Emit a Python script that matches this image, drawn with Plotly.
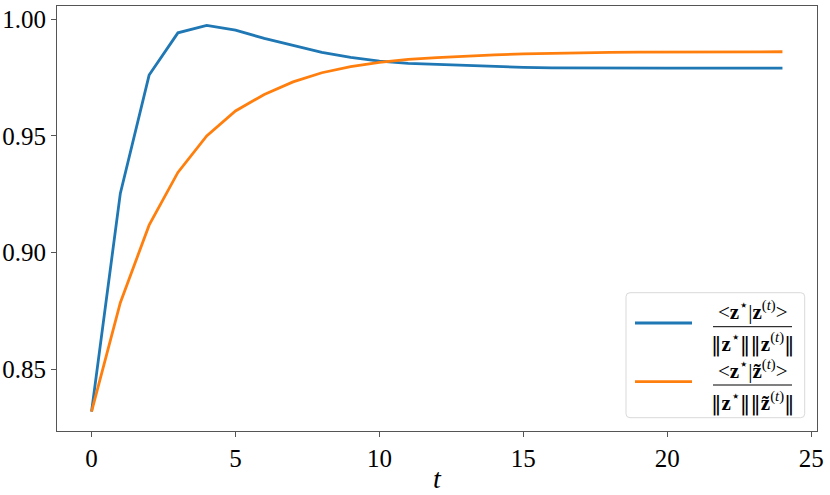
import plotly.graph_objects as go

t = list(range(25))
cos_z = [0.8318, 0.9253, 0.9760, 0.9941, 0.9973, 0.9953, 0.9917, 0.9886, 0.9857,
         0.9836, 0.9820, 0.9810, 0.9805, 0.9800, 0.9796, 0.9793, 0.9791, 0.9790,
         0.9790, 0.9790, 0.9790, 0.9790, 0.9790, 0.9790, 0.9790]
cos_zt = [0.8318, 0.8785, 0.9117, 0.9343, 0.9499, 0.9606, 0.9677, 0.9731, 0.9770,
          0.9796, 0.9814, 0.9827, 0.9835, 0.9842, 0.9847, 0.9851, 0.9854, 0.9856,
          0.9857, 0.9858, 0.9859, 0.9859, 0.9860, 0.9860, 0.9860]
x_ticks = [0, 5, 10, 15, 20, 25]
y_ticks = [0.85, 0.90, 0.95, 1.00]

BLUE = "#1f77b4"
ORANGE = "#ff7f0e"
FONT = "Liberation Serif, Times New Roman, serif"
W, H = 830, 495
ML, MR, MT, MB = 57, 13, 6, 64
PW, PH = W - ML - MR, H - MT - MB


def px(xp):
    return (xp - ML) / PW


def py(yp):
    return (H - MB - yp) / PH


fig = go.Figure()
fig.add_trace(go.Scatter(x=t, y=cos_z, mode="lines", name="z",
                         line=dict(color=BLUE, width=2.8), showlegend=False))
fig.add_trace(go.Scatter(x=t, y=cos_zt, mode="lines", name="z tilde",
                         line=dict(color=ORANGE, width=2.8), showlegend=False))

axis_common = dict(showline=True, mirror=True, linecolor="#555", linewidth=1,
                   ticks="outside", ticklen=5, tickcolor="#555", showgrid=False,
                   zeroline=False, automargin=False,
                   tickfont=dict(family=FONT, size=25, color="black"))
fig.update_xaxes(range=[-1.2, 25.2], tickvals=x_ticks, **axis_common)
fig.update_yaxes(range=[0.8235, 1.0056], tickvals=y_ticks, tickformat=".2f", **axis_common)

# custom legend with fraction labels
x0, x1, y0, y1 = 626, 804.7, 292.7, 417.7
r = 4
path = (f"M {px(x0 + r)},{py(y0)} L {px(x1 - r)},{py(y0)} "
        f"Q {px(x1)},{py(y0)} {px(x1)},{py(y0 + r)} L {px(x1)},{py(y1 - r)} "
        f"Q {px(x1)},{py(y1)} {px(x1 - r)},{py(y1)} L {px(x0 + r)},{py(y1)} "
        f"Q {px(x0)},{py(y1)} {px(x0)},{py(y1 - r)} L {px(x0)},{py(y0 + r)} "
        f"Q {px(x0)},{py(y0)} {px(x0 + r)},{py(y0)} Z")
shapes = [dict(type="path", xref="paper", yref="paper", path=path,
               line=dict(color="#d9d9d9", width=1), fillcolor="rgba(255,255,255,0.85)")]
annotations = [dict(xref="paper", yref="paper", x=px(437), y=py(478),
                    text="<i>t</i>", showarrow=False, xanchor="center", yanchor="middle",
                    font=dict(family=FONT, size=28, color="black"))]
NB = '<span style="font-family:DejaVu Serif">‖</span>'
entries = [
    (BLUE, 323, 326.7,
     "&lt;<b>z</b><sup>⋆</sup>|<b>z</b><sup>(<i>t</i>)</sup>&gt;",
     f"{NB}<b>z</b><sup>⋆</sup>{NB}{NB}<b>z</b><sup>(<i>t</i>)</sup>{NB}"),
    (ORANGE, 381.7, 385,
     "&lt;<b>z</b><sup>⋆</sup>|<b>z̃</b><sup>(<i>t</i>)</sup>&gt;",
     f"{NB}<b>z</b><sup>⋆</sup>{NB}{NB}<b>z̃</b><sup>(<i>t</i>)</sup>{NB}"),
]
for color, ys, yb, num, den in entries:
    shapes.append(dict(type="line", xref="paper", yref="paper",
                       x0=px(635), x1=px(692), y0=py(ys), y1=py(ys),
                       line=dict(color=color, width=2.8)))
    shapes.append(dict(type="line", xref="paper", yref="paper",
                       x0=px(713), x1=px(792), y0=py(yb), y1=py(yb),
                       line=dict(color="black", width=1)))
    annotations.append(dict(xref="paper", yref="paper", x=px(752.5), y=py(yb - 0.5),
                            text=num, showarrow=False, xanchor="center", yanchor="bottom",
                            font=dict(family=FONT, size=21, color="black")))
    annotations.append(dict(xref="paper", yref="paper", x=px(752.5), y=py(yb + 0.5),
                            text=den, showarrow=False, xanchor="center", yanchor="top",
                            font=dict(family=FONT, size=21, color="black")))

fig.update_layout(width=W, height=H, margin=dict(l=ML, r=MR, t=MT, b=MB),
                  plot_bgcolor="white", paper_bgcolor="white",
                  shapes=shapes, annotations=annotations,
                  font=dict(family=FONT, color="black"))
fig.write_html("out.html", config={"displayModeBar": False},
               post_script="document.body.style.margin='0';document.body.style.padding='0';")
